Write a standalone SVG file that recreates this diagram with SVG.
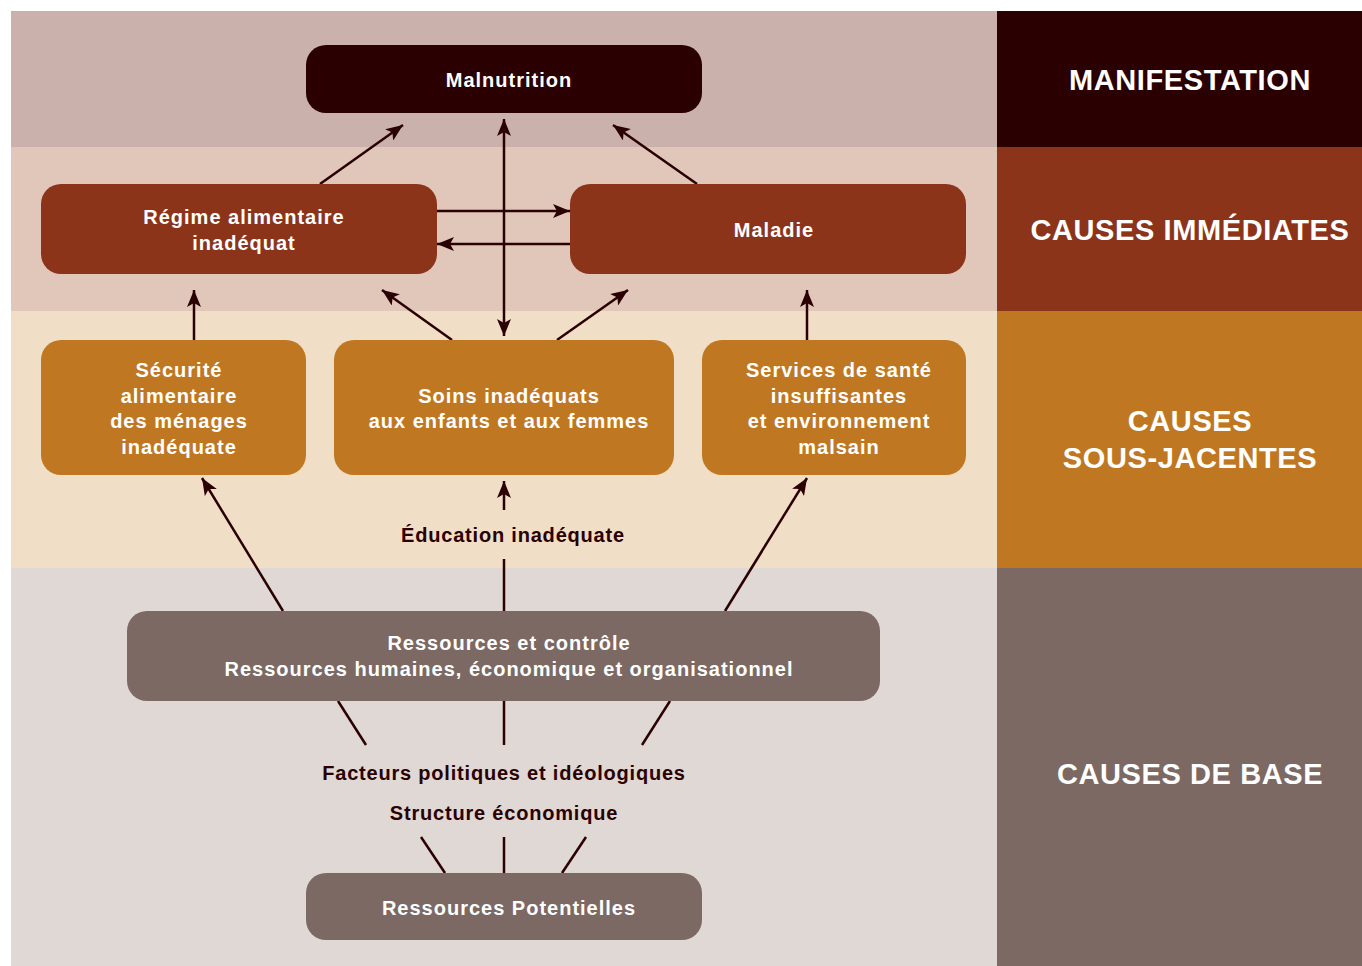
<svg xmlns="http://www.w3.org/2000/svg" width="1362" height="966" viewBox="0 0 1362 966">
<style>
.nt{font-family:"Liberation Sans",Arial,sans-serif;font-weight:bold;font-size:20px;fill:#ffffff;text-anchor:middle;letter-spacing:1px}
.dt{font-family:"Liberation Sans",Arial,sans-serif;font-weight:bold;font-size:20px;fill:#2a0000;text-anchor:middle;letter-spacing:0.8px}
.ct{font-family:"Liberation Sans",Arial,sans-serif;font-weight:bold;font-size:29px;fill:#ffffff;text-anchor:middle;letter-spacing:0.6px}
.ln{stroke:#2a0000;stroke-width:2.5;fill:none}
.ar{marker-end:url(#ah)}
</style>
<defs>
<marker id="ah" markerUnits="userSpaceOnUse" markerWidth="18" markerHeight="14" refX="17" refY="7" orient="auto">
<path d="M0,0 L17,7 L0,14 L4,7 Z" fill="#2a0000"/>
</marker>
<marker id="ahs" markerUnits="userSpaceOnUse" markerWidth="18" markerHeight="14" refX="1" refY="7" orient="auto">
<path d="M18,0 L1,7 L18,14 L14,7 Z" fill="#2a0000"/>
</marker>
</defs>
<rect width="1362" height="966" fill="#ffffff"/>
<g id="bands">
<rect x="11" y="11" width="986" height="136" fill="#cbb1ac"/>
<rect x="11" y="147" width="986" height="164" fill="#e1c7ba"/>
<rect x="11" y="311" width="986" height="257" fill="#f0dec6"/>
<rect x="11" y="568" width="986" height="398" fill="#dfd8d5"/>
<rect x="997" y="11" width="365" height="136" fill="#2a0000"/>
<rect x="997" y="147" width="365" height="164" fill="#8b341a"/>
<rect x="997" y="311" width="365" height="257" fill="#bf7821"/>
<rect x="997" y="568" width="365" height="398" fill="#7c6963"/>
<text class="ct" x="1190" y="90">MANIFESTATION</text>
<text class="ct" x="1190" y="240">CAUSES IMMÉDIATES</text>
<text class="ct" x="1190" y="431">CAUSES</text>
<text class="ct" x="1190" y="468">SOUS-JACENTES</text>
<text class="ct" x="1190" y="784">CAUSES DE BASE</text>
</g>
<g id="connectors">
<line class="ln ar" x1="320" y1="184" x2="403" y2="125"/>
<line class="ln" x1="504" y1="119" x2="504" y2="336" marker-start="url(#ahs)" marker-end="url(#ah)"/>
<line class="ln ar" x1="697" y1="184" x2="613" y2="125"/>
<line class="ln ar" x1="437" y1="211" x2="570" y2="211"/>
<line class="ln ar" x1="570" y1="244" x2="437" y2="244"/>
<line class="ln ar" x1="194" y1="340" x2="194" y2="290"/>
<line class="ln ar" x1="452" y1="340" x2="382" y2="290"/>
<line class="ln ar" x1="557" y1="340" x2="628" y2="290"/>
<line class="ln ar" x1="807" y1="340" x2="807" y2="290"/>
<line class="ln ar" x1="504" y1="510" x2="504" y2="481"/>
<line class="ln" x1="504" y1="559" x2="504" y2="611"/>
<line class="ln ar" x1="283" y1="611" x2="202" y2="478"/>
<line class="ln ar" x1="725" y1="611" x2="807" y2="478"/>
<line class="ln" x1="338" y1="701" x2="366" y2="745"/>
<line class="ln" x1="504" y1="701" x2="504" y2="745"/>
<line class="ln" x1="670" y1="701" x2="642" y2="745"/>
<line class="ln" x1="421" y1="837" x2="445" y2="873"/>
<line class="ln" x1="504" y1="837" x2="504" y2="873"/>
<line class="ln" x1="586" y1="837" x2="562" y2="873"/>
</g>
<g id="malnutrition">
<rect x="306" y="45" width="396" height="68" rx="20" fill="#2a0000"/>
<text class="nt" x="509" y="87">Malnutrition</text>
</g>
<g id="regime">
<rect x="41" y="184" width="396" height="90" rx="20" fill="#8b341a"/>
<text class="nt" x="244" y="224">Régime alimentaire</text>
<text class="nt" x="244" y="250">inadéquat</text>
</g>
<g id="maladie">
<rect x="570" y="184" width="396" height="90" rx="20" fill="#8b341a"/>
<text class="nt" x="774" y="237">Maladie</text>
</g>
<g id="securite">
<rect x="41" y="340" width="265" height="135" rx="20" fill="#bf7821"/>
<text class="nt" x="179" y="377">Sécurité</text>
<text class="nt" x="179" y="403">alimentaire</text>
<text class="nt" x="179" y="428">des ménages</text>
<text class="nt" x="179" y="454">inadéquate</text>
</g>
<g id="soins">
<rect x="334" y="340" width="340" height="135" rx="20" fill="#bf7821"/>
<text class="nt" x="509" y="403">Soins inadéquats</text>
<text class="nt" x="509" y="428">aux enfants et aux femmes</text>
</g>
<g id="services">
<rect x="702" y="340" width="264" height="135" rx="20" fill="#bf7821"/>
<text class="nt" x="839" y="377">Services de santé</text>
<text class="nt" x="839" y="403">insuffisantes</text>
<text class="nt" x="839" y="428">et environnement</text>
<text class="nt" x="839" y="454">malsain</text>
</g>
<g id="education">
<text class="dt" x="513" y="542">Éducation inadéquate</text>
</g>
<g id="ressources-controle">
<rect x="127" y="611" width="753" height="90" rx="20" fill="#7c6963"/>
<text class="nt" x="509" y="650">Ressources et contrôle</text>
<text class="nt" x="509" y="676">Ressources humaines, économique et organisationnel</text>
</g>
<g id="facteurs">
<text class="dt" x="504" y="780">Facteurs politiques et idéologiques</text>
<text class="dt" x="504" y="820">Structure économique</text>
</g>
<g id="ressources-potentielles">
<rect x="306" y="873" width="396" height="67" rx="20" fill="#7c6963"/>
<text class="nt" x="509" y="915">Ressources Potentielles</text>
</g>
</svg>
